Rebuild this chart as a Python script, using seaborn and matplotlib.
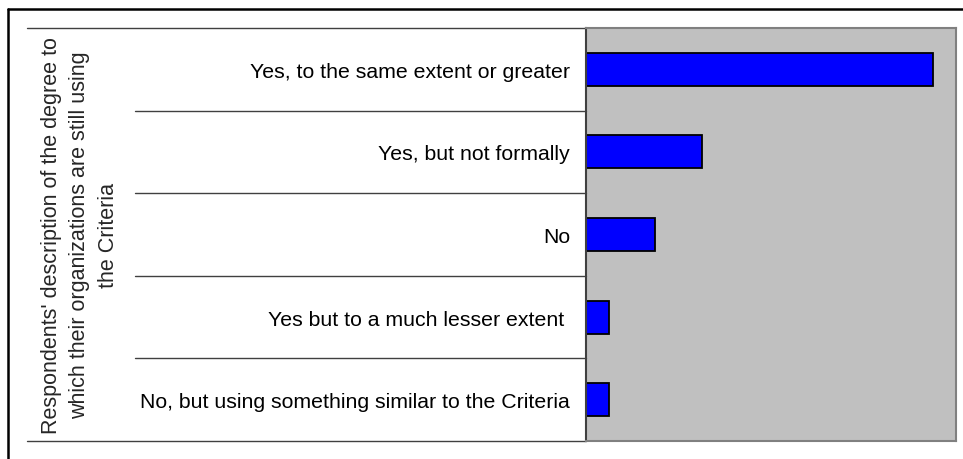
import matplotlib
matplotlib.use("Agg")
import matplotlib.pyplot as plt
import matplotlib.transforms as mtransforms
from matplotlib.lines import Line2D
import seaborn as sns
import pandas as pd

categories = [
    "Yes, to the same extent or greater",
    "Yes, but not formally",
    "No",
    "Yes but to a much lesser extent ",
    "No, but using something similar to the Criteria",
]
values = [15, 5, 3, 1, 1]
axis_title = ("Respondents' description of the degree to\n"
              "which their organizations are still using\n"
              "the Criteria")

sns.set_style("white")
plt.rcParams["font.family"] = ["Liberation Sans", "DejaVu Sans"]

df = pd.DataFrame({"category": categories, "value": values})

fig = plt.figure(figsize=(9.63, 4.6), dpi=100)
fig.patch.set_facecolor("white")
ax = fig.add_axes([586 / 963, 1 - 442 / 460, 370 / 963, 413 / 460])

sns.barplot(data=df, y="category", x="value", orient="h", order=categories,
            color="#0000FF", saturation=1, width=0.4,
            edgecolor="black", linewidth=1.3, ax=ax)

ax.set_xlim(0, 16)
ax.set_facecolor("#C0C0C0")
ax.set_xlabel("")
ax.set_ylabel("")
ax.set_xticks([])
ax.tick_params(axis="y", length=0, pad=11.5, labelsize=15.3, labelcolor="black")

for side in ["top", "right", "bottom"]:
    ax.spines[side].set_visible(True)
    ax.spines[side].set_color("#808080")
    ax.spines[side].set_linewidth(1.5)
ax.spines["left"].set_visible(True)
ax.spines["left"].set_color("#404040")
ax.spines["left"].set_linewidth(1.5)

# category separator lines (multi-level category axis look)
trans = mtransforms.blended_transform_factory(ax.transAxes, ax.transData)
n = len(categories)
for i in range(n + 1):
    yb = i - 0.5
    x0 = (27 - 586) / 370 if i in (0, n) else (135 - 586) / 370
    ax.add_line(Line2D([x0, 0], [yb, yb], transform=trans, color="#404040",
                       lw=1.0, clip_on=False))

# outer-level category title
fig.text(80 / 963, 1 - 235.5 / 460, axis_title, rotation=90, ha="center",
         va="center", multialignment="center", fontsize=15.5, linespacing=1.45)

# figure border (top and left visible)
fig.add_artist(Line2D([8 / 963, 1.0], [1 - 10 / 460, 1 - 10 / 460],
                      transform=fig.transFigure, color="black", lw=1.8))
fig.add_artist(Line2D([8 / 963, 8 / 963], [0.0, 1 - 10 / 460],
                      transform=fig.transFigure, color="black", lw=1.8))

fig.savefig("out.png", dpi=100)
